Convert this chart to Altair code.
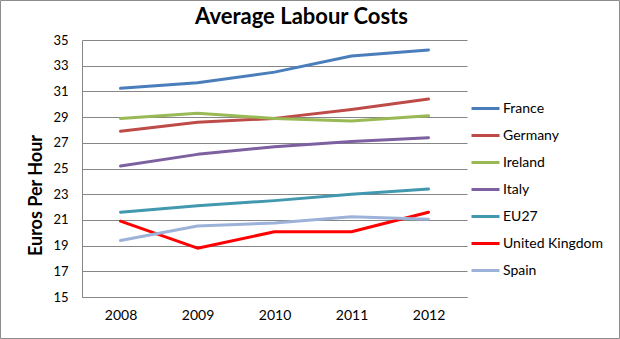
import altair as alt
import pandas as pd

years = ["2008", "2009", "2010", "2011", "2012"]
countries = ["France", "Germany", "Ireland", "Italy", "EU27", "United Kingdom", "Spain"]
france = [31.24, 31.67, 32.5, 33.75, 34.22]
germany = [27.9, 28.6, 28.9, 29.6, 30.4]
ireland = [28.9, 29.3, 28.9, 28.7, 29.1]
italy = [25.2, 26.1, 26.7, 27.1, 27.4]
eu27 = [21.6, 22.1, 22.5, 23.0, 23.4]
uk = [20.9, 18.8, 20.08, 20.08, 21.6]
spain = [19.4, 20.53, 20.75, 21.25, 21.05]
colors = ["#4A7EBB", "#BE4B48", "#98B954", "#7D60A0", "#4198AF", "#FF0000", "#9DB2D9"]

series = [france, germany, ireland, italy, eu27, uk, spain]
rows = []
for name, vals in zip(countries, series):
    for y, v in zip(years, vals):
        rows.append({"Year": y, "Country": name, "Value": v})
df = pd.DataFrame(rows)

W, H = 385, 257
PL, PT = 82, 40

lines = alt.Chart(df).mark_line(strokeWidth=3, interpolate="linear",
                                strokeJoin="round", strokeCap="round").encode(
    x=alt.X("Year:O", sort=years,
            scale=alt.Scale(type="point", padding=0.5),
            axis=alt.Axis(title=None, labelAngle=0, labelFontSize=14, labelPadding=11,
                          ticks=False, domainColor="#868686", labelColor="#000000",
                          labelFont="Lato", grid=False)),
    y=alt.Y("Value:Q",
            scale=alt.Scale(domain=[15, 35], nice=False, zero=False),
            axis=alt.Axis(values=list(range(15, 36, 2)), title="Euros Per Hour",
                          titleFont="Lato", titleFontSize=18, titleFontWeight="bold",
                          titleColor="#000000", titleAngle=-90, titleX=-41, titleY=155,
                          titleAlign="center", titleBaseline="alphabetic",
                          labelFontSize=13, labelPadding=14, labelFont="Lato",
                          labelColor="#000000", ticks=False, domainColor="#868686",
                          gridColor="#868686", gridWidth=1)),
    color=alt.Color("Country:N", sort=countries,
                    scale=alt.Scale(domain=countries, range=colors),
                    legend=alt.Legend(title=None, orient="none", legendX=388, legendY=53,
                                      symbolType="stroke", symbolStrokeWidth=3,
                                      symbolSize=784, labelFontSize=14, labelFont="Lato",
                                      labelColor="#000000", labelOffset=2,
                                      rowPadding=4, labelLimit=200)),
)

frame = alt.Chart(pd.DataFrame({"a": [0]})).mark_rect(
    fill=None, stroke="#8C8C8C", strokeWidth=1
).encode(
    x=alt.value(-PL + 0.5), x2=alt.value(620 - PL - 0.5),
    y=alt.value(-PT + 0.5), y2=alt.value(339 - PT - 0.5),
)

chart = alt.layer(lines, frame).properties(
    width=W, height=H,
    autosize=alt.AutoSizeParams(type="none"),
    padding={"left": PL, "top": PT, "right": 620 - PL - W, "bottom": 339 - PT - H},
    title=alt.TitleParams("Average Labour Costs", font="Lato", fontSize=22,
                          fontWeight="bold", color="#000000", anchor="middle",
                          frame="group", dx=27, offset=-29),
    background="white",
).configure_view(stroke=None)

chart.save("out.html", embed_options={"renderer": "svg", "actions": False})
